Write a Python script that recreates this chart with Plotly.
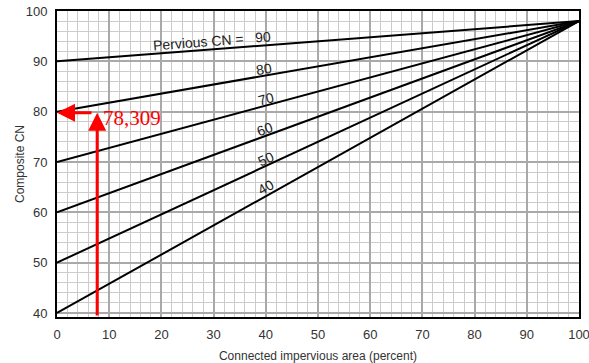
import math
import plotly.graph_objects as go

# Composite CN chart: straight lines from pervious CN at 0 % impervious
# to the impervious CN at 100 % connected impervious area.
pervious_cn = [90, 80, 70, 60, 50, 40]
impervious_cn = 98
impervious_pct = [0, 100]

# Curve labels (text, x position, y position)
curve_labels = ["Pervious CN =   90", "80", "70", "60", "50", "40"]
label_x = [29.6, 39.6, 40.0, 39.8, 40.0, 40.0]
label_y = [94.0, 88.5, 82.6, 76.5, 70.6, 65.0]

# Worked example
example_pct = 7.7
example_cn_text = "78,309"
example_cn_arrow = 79.8
example_text_x = 14.4
example_text_y = 78.7

x_ticks = [0, 10, 20, 30, 40, 50, 60, 70, 80, 90, 100]
y_ticks = [40, 50, 60, 70, 80, 90, 100]

X_RANGE = [0, 100]
Y_RANGE = [39.2, 100]
W, H = 589, 363
M = dict(l=57, r=10, t=11, b=46)
plot_w = W - M["l"] - M["r"]
plot_h = H - M["t"] - M["b"]
px_per_x = plot_w / (X_RANGE[1] - X_RANGE[0])
px_per_y = plot_h / (Y_RANGE[1] - Y_RANGE[0])

fig = go.Figure()
for cn in pervious_cn:
    fig.add_trace(go.Scatter(
        x=impervious_pct, y=[cn, impervious_cn], mode="lines",
        line=dict(color="black", width=2), showlegend=False, hoverinfo="skip"))

label_font = dict(family="Liberation Sans, Arial, sans-serif", size=14, color="#222")
for cn, txt, lx, ly in zip(pervious_cn, curve_labels, label_x, label_y):
    slope_px = (impervious_cn - cn) / 100 * px_per_y / px_per_x
    angle = -math.degrees(math.atan(slope_px))
    fig.add_annotation(x=lx, y=ly, text=txt, showarrow=False,
                       textangle=angle, font=label_font)

# Red arrows: up from the x axis, then left to the CN axis
fig.add_annotation(x=example_pct, y=example_cn_arrow, ax=example_pct, ay=Y_RANGE[0],
                   xref="x", yref="y", axref="x", ayref="y", text="",
                   showarrow=True, arrowhead=2, arrowsize=1.2, arrowwidth=3,
                   arrowcolor="#ff0000")
fig.add_annotation(x=0, y=example_cn_arrow, ax=6.9, ay=example_cn_arrow,
                   xref="x", yref="y", axref="x", ayref="y", text="",
                   showarrow=True, arrowhead=2, arrowsize=1.2, arrowwidth=3,
                   arrowcolor="#ff0000")
fig.add_annotation(x=example_text_x, y=example_text_y, text=example_cn_text,
                   showarrow=False,
                   font=dict(family="Liberation Serif, Times New Roman, serif",
                             size=21, color="#ff0000"))

title_font = dict(family="Liberation Sans, Arial, sans-serif", size=12, color="#333")

# Y axis title placed as rotated text left of the tick labels
fig.add_annotation(xref="paper", yref="paper", x=(20 - M["l"]) / plot_w, y=0.5,
                   text="Composite CN", textangle=-90, showarrow=False,
                   xanchor="center", yanchor="middle", font=title_font)

axis_common = dict(
    showline=True, mirror=True, linecolor="black", linewidth=2,
    showgrid=True, gridcolor="#a9a9a9", gridwidth=1.5,
    ticks="", zeroline=False, automargin=False, ticklabeloverflow="allow",
    tickfont=dict(family="Liberation Sans, Arial, sans-serif", size=13, color="#333"),
    title_font=title_font,
)

fig.update_xaxes(range=X_RANGE, tickvals=x_ticks, ticklabelstandoff=4,
                 title=dict(text="Connected impervious area (percent)"),
                 minor=dict(dtick=2, tick0=0, showgrid=True, gridcolor="#cccccc", gridwidth=1.2),
                 **axis_common)
fig.update_yaxes(range=Y_RANGE, tickvals=y_ticks, ticklabelstandoff=5,
                 minor=dict(dtick=2, tick0=40, showgrid=True, gridcolor="#cccccc", gridwidth=1.2),
                 **axis_common)

fig.update_layout(width=W, height=H, margin=M,
                  paper_bgcolor="white", plot_bgcolor="white")

fig.write_html("out.html")
